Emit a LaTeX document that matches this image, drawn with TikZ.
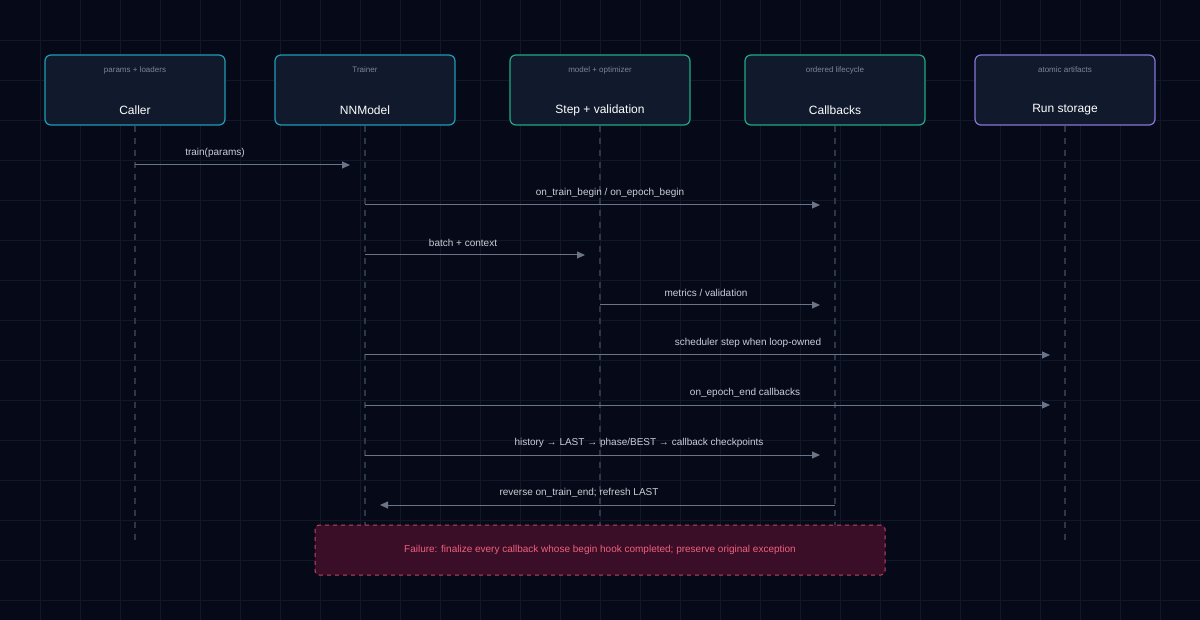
\documentclass[tikz,border=0pt]{standalone}
\usepackage{fontspec}
\setmainfont{Liberation Sans}
\usetikzlibrary{arrows.meta}
\definecolor{bgc}{HTML}{060A18}
\definecolor{gridc}{HTML}{111827}
\definecolor{boxc}{HTML}{111A2C}
\definecolor{cyanc}{HTML}{1E9BB5}
\definecolor{tealc}{HTML}{1EA982}
\definecolor{purplec}{HTML}{8676D8}
\definecolor{linec}{HTML}{6B7587}
\definecolor{lifec}{HTML}{2E374A}
\definecolor{txtc}{HTML}{C9CED8}
\definecolor{subc}{HTML}{7C8597}
\definecolor{failc}{HTML}{3A0E27}
\definecolor{failb}{HTML}{C24563}
\definecolor{failt}{HTML}{F0607E}
\tikzset{
  actor/.style={draw=#1, line width=0.6pt, fill=boxc, rounded corners=3pt,
    minimum width=90pt, minimum height=35pt},
  msg/.style={draw=linec, line width=0.5pt, -{Triangle[length=4pt,width=3.5pt]}},
  lbl/.style={text=txtc, font=\fontsize{5}{6}\selectfont},
}
\begin{document}
\begin{tikzpicture}[x=0.5pt,y=-0.5pt]

  \fill[bgc] (0,0) rectangle (1200,620);
  \useasboundingbox (0,0) rectangle (1200,620);
  \foreach \x in {40,80,...,1160}
    \draw[gridc, line width=0.4pt] (\x,0) -- (\x,620);
  \foreach \y in {40,80,...,600}
    \draw[gridc, line width=0.4pt] (0,\y) -- (1200,\y);

  % participants
  \node[actor=cyanc] (caller) at (135,90) {};
  \node[actor=cyanc] (trainer) at (365,90) {};
  \node[actor=tealc] (step) at (600,90) {};
  \node[actor=tealc] (callbacks) at (835,90) {};
  \node[actor=purplec] (storage) at (1065,90) {};

  \foreach \n/\t/\s in {caller/Caller/params + loaders,
      trainer/NNModel / Trainer/writable lease,
      step/Step + validation/model + optimizer,
      callbacks/Callbacks/ordered lifecycle,
      storage/Run storage/atomic artifacts} {
    \node[text=white, font=\fontsize{6}{7}\selectfont] at ([yshift=-10]\n.center) {\t};
    \node[text=subc, font=\fontsize{4}{5}\selectfont] at ([yshift=10]\n.center) {\s};
    \coordinate (\n end) at (\n |- 0,540);
    \draw[lifec, line width=0.6pt, dash pattern=on 3pt off 3pt] (\n.south) -- (\n end);
  }

  % messages
  \draw[msg, shorten >=7.5pt] (caller |- 0,165) -- (trainer |- 0,165);
  \node[lbl] at (215,153) {train(params)};
  \draw[msg, shorten >=7.5pt] (trainer |- 0,205) -- (callbacks |- 0,205);
  \node[lbl] at (610,193) {on\_train\_begin / on\_epoch\_begin};
  \draw[msg, shorten >=7.5pt] (trainer |- 0,255) -- (step |- 0,255);
  \node[lbl] at (463,243) {batch + context};
  \draw[msg, shorten >=7.5pt] (step |- 0,305) -- (callbacks |- 0,305);
  \node[lbl] at (706,293) {metrics / validation};
  \draw[msg, shorten >=7.5pt] (trainer |- 0,355) -- (storage |- 0,355);
  \node[lbl] at (748,343) {scheduler step when loop-owned};
  \draw[msg, shorten >=7.5pt] (trainer |- 0,405) -- (storage |- 0,405);
  \node[lbl] at (745,393) {on\_epoch\_end callbacks};
  \draw[msg, shorten >=7.5pt] (trainer |- 0,455) -- (callbacks |- 0,455);
  \node[lbl] at (639,443) {history → LAST → phase/BEST → callback checkpoints};
  \draw[msg, shorten >=7.5pt] (callbacks |- 0,505) -- (trainer |- 0,505);
  \node[lbl] at (579,493) {reverse on\_train\_end; refresh LAST};

  % failure note
  \node[draw=failb, fill=failc, rounded corners=2pt, line width=0.5pt,
    dash pattern=on 2pt off 2pt, minimum width=285pt, minimum height=25pt,
    text=failt, font=\fontsize{5}{6}\selectfont] (failure) at (600,550)
    {Failure: finalize every callback whose begin hook completed; preserve original exception};

\end{tikzpicture}
\end{document}
